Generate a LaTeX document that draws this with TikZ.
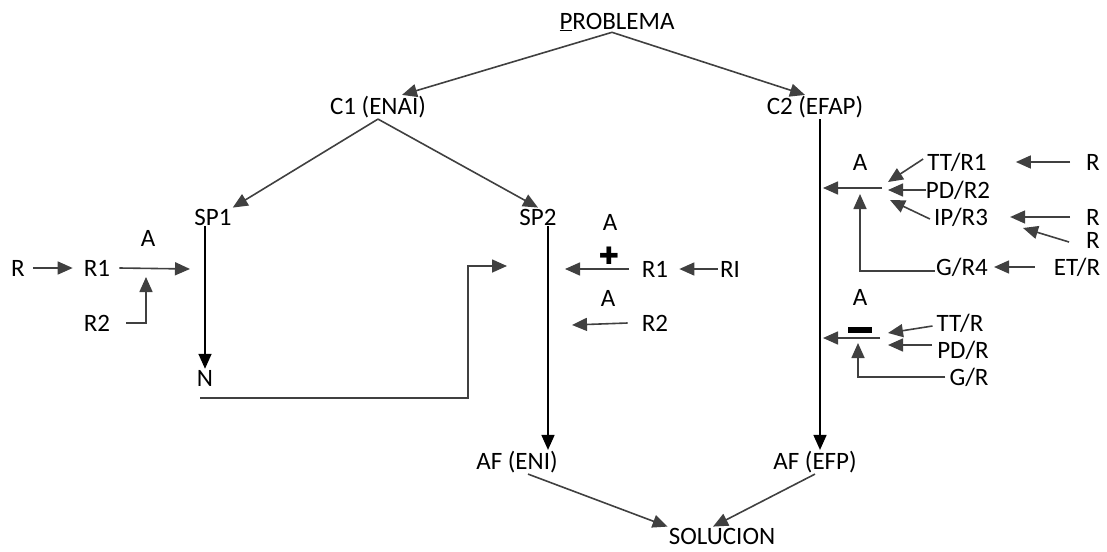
\documentclass[tikz,border=0pt]{standalone}
\usepackage{fontspec}
\setmainfont{Carlito}
\newfontfamily\symfont{DejaVu Sans}
\usetikzlibrary{arrows.meta}

\tikzset{
  lbl/.style={font=\fontsize{25}{29}\selectfont, inner sep=1pt},
  tip/.style={-{Triangle[length=15pt,width=13pt]}},
  conn/.style={draw=black!75, line width=1.6pt, tip},
  plain/.style={draw=black!75, line width=1.6pt},
}

\begin{document}
\begin{tikzpicture}[x=1pt, y=-1pt]
    \useasboundingbox (0,0) rectangle (1107,551);

    \node[lbl] (prob) at (617,22) {\underline{P}ROBLEMA};
    \node[lbl] (c1) at (378,107) {C1 (ENAI)};
    \node[lbl] (c2) at (815,107) {C2 (EFAP)};
    \node[lbl] (sp1) at (213,217) {SP1};
    \node[lbl] (sp2) at (538,217) {SP2};
    \node[lbl] (n) at (205,378) {N};
    \node[lbl] (afeni) at (517,462) {AF (ENI)};
    \node[lbl] (afefp) at (815,462) {AF (EFP)};
    \node[lbl] (sol) at (722,536) {SOLUCION};

    \draw[conn] ([xshift=-5pt]prob.south) -- ([xshift=24pt]c1.north);
    \draw[conn] ([xshift=-5pt]prob.south) -- ([xshift=-10pt]c2.north);
    \draw[conn] (c1.south) -- (sp1.north east);
    \draw[conn] (c1.south) -- (sp2.north);
    \draw[conn, draw=black] (sp1.south -| n.north) -- (n.north);
    \draw[conn, draw=black] ([xshift=10pt]sp2.south) -- ([xshift=10pt]sp2.south |- afeni.north);
    \draw[conn, draw=black] ([xshift=5pt]c2.south) -- ([xshift=5pt]c2.south |- afefp.north);
    \draw[conn] ([xshift=11pt]afeni.south) -- (sol.north west);
    \draw[conn] (afefp.south) -- ([xshift=-9pt]sol.north);

    % rama izquierda
    \node[lbl] (r0) at (18,268) {R};
    \node[lbl] (r1a) at (97,268) {R1};
    \node[lbl] (aa) at (148,238) {A};
    \node[lbl] (r2a) at (97,323) {R2};
    \coordinate (ksp1) at (190,269);
    \coordinate (ja) at (146,277);
    \coordinate (nout) at (200,398);
    \coordinate (ksp2) at (507,266);
    \draw[conn, shorten <=7pt, shorten >=10pt] (r0.east) -- (r1a.west);
    \draw[conn] ([xshift=8pt]r1a.east) -- (ksp1);
    \draw[plain, tip] ([xshift=15pt]r2a.east) -| (ja);
    \draw[plain, tip] (nout) -- (468,398) |- (ksp2);

    \node[lbl] (ap) at (610,222) {A};
    \node[font=\symfont\fontsize{24}{24}\selectfont, inner sep=0pt] (plus) at (609,256) {✚};
    \node[lbl] (r1b) at (655,269) {R1};
    \node[lbl] (ri) at (730,269) {RI};
    \node[lbl] (am) at (608,298) {A};
    \node[lbl] (r2b) at (655,323) {R2};
    \coordinate (ksp2a) at (565,269);
    \coordinate (ksp2b) at (572,325);
    \draw[conn] ([xshift=-12pt]r1b.west) -- (ksp2a);
    \draw[conn] ([xshift=-1pt]ri.west) -- ([xshift=10pt]r1b.east);
    \draw[conn] ([xshift=-13pt]r2b.west) -- (ksp2b);

    % rama derecha
    \node[lbl] (au) at (860,162) {A};
    \node[lbl] (tt1) at (957,162) {TT/R1};
    \node[lbl] (pd2) at (958,190) {PD/R2};
    \node[lbl] (ip3) at (961,217) {IP/R3};
    \node[lbl] (g4) at (962,267) {G/R4};
    \node[lbl] (rx) at (1093,162) {R};
    \node[lbl] (ry) at (1093,217) {R};
    \node[lbl] (rz) at (1093,240) {R};
    \node[lbl] (etr) at (1077,267) {ET/R};
    \coordinate (hub1) at (882,188);
    \coordinate (kc2a) at (823,188);
    \coordinate (hubt) at (888,182);
    \coordinate (hubp) at (888,190);
    \coordinate (hubi) at (890,200);
    \coordinate (kg) at (860,194);
    \coordinate (kip) at (1023,228);
    \draw[conn] (hub1) -- (kc2a);
    \draw[conn] ([shift={(-3pt,3pt)}]tt1.west) -- (hubt);
    \draw[conn] ([xshift=1pt]pd2.west) -- (hubp);
    \draw[conn] ([shift={(-3pt,-2pt)}]ip3.west) -- (hubi);
    \draw[plain, tip] ([shift={(0pt,-4pt)}]g4.west) -| (kg);
    \draw[conn] ([xshift=-15pt]rx.west) -- ([xshift=28pt]tt1.east);
    \draw[conn] ([xshift=-15pt]ry.west) -- ([xshift=21pt]ip3.east);
    \draw[conn] ([shift={(-16pt,-2pt)}]rz.west) -- (kip);
    \draw[conn] ([xshift=-18pt]etr.west) -- ([xshift=5pt]g4.east);

    \node[lbl] (al) at (860,297) {A};
    \node[fill=black, minimum width=24pt, minimum height=6pt, inner sep=0pt] (minus) at (860,330) {};
    \node[lbl] (ttr) at (960,323) {TT/R};
    \node[lbl] (pdr) at (963,350) {PD/R};
    \node[lbl] (gr) at (969,377) {G/R};
    \coordinate (hub2) at (880,338);
    \coordinate (kc2b) at (823,338);
    \coordinate (hubt2) at (888,333);
    \coordinate (hubp2) at (888,345);
    \coordinate (kg2) at (858,343);
    \draw[conn] (hub2) -- (kc2b);
    \draw[conn] ([shift={(-3pt,-3pt)}]ttr.west) -- (hubt2);
    \draw[conn] ([shift={(-4pt,5pt)}]pdr.west) -- (hubp2);
    \draw[plain, tip] ([xshift=-3pt]gr.west) -| (kg2);
\end{tikzpicture}
\end{document}
